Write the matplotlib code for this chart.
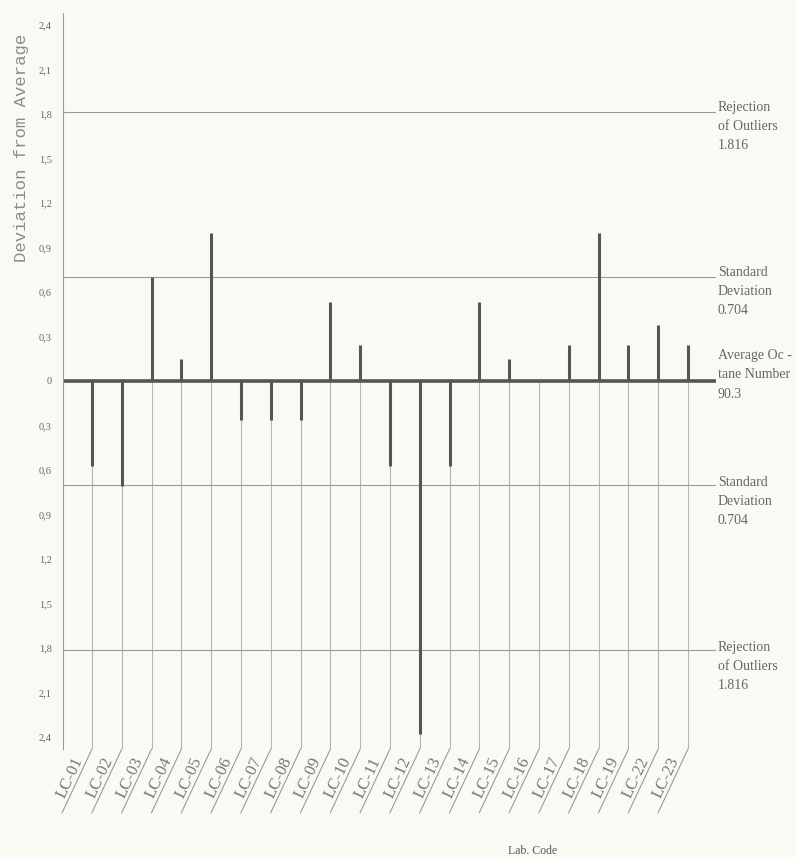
import numpy as np
import matplotlib.pyplot as plt

plt.rcParams['font.family'] = ['Liberation Serif', 'DejaVu Serif']

# ---- data ----
labs = ['LC-01', 'LC-02', 'LC-03', 'LC-04', 'LC-05', 'LC-06', 'LC-07',
        'LC-08', 'LC-09', 'LC-10', 'LC-11', 'LC-12', 'LC-13', 'LC-14',
        'LC-15', 'LC-16', 'LC-17', 'LC-18', 'LC-19', 'LC-22', 'LC-23']
deviation = [-0.57, -0.71, 0.70, 0.15, 1.00, -0.26, -0.26,
             -0.26, 0.53, 0.24, -0.57, -2.38, -0.57, 0.53,
             0.15, 0.00, 0.24, 1.00, 0.24, 0.38, 0.24]
avg_octane = 90.3
std_dev = 0.704
reject = 1.816
y_ticks = [2.4, 2.1, 1.8, 1.5, 1.2, 0.9, 0.6, 0.3, 0,
           -0.3, -0.6, -0.9, -1.2, -1.5, -1.8, -2.1, -2.4]

bg = '#fafaf5'
ybot, ytop = -2.48, 2.48

fig = plt.figure(figsize=(7.96, 8.57), dpi=100, facecolor=bg)
ax = fig.add_axes([63 / 796, 1 - 749 / 857, 653 / 796, 736 / 857])
ax.set_facecolor(bg)

x = np.arange(len(labs))
ax.set_xlim(-0.973, 20.94)
ax.set_ylim(ybot, ytop)

# thin guides from the average line down to the lab codes
ax.vlines(x, ybot, 0, color='#b4b4b4', lw=0.8)

# control limits
for v in (reject, std_dev, -std_dev, -reject):
    ax.axhline(v, color='#9a9a9a', lw=0.8)

# deviations
ax.vlines(x, 0, deviation, color='#555555', lw=2.2)
ax.axhline(0, color='#555555', lw=2.6)

# axis styling
for s in ('top', 'right', 'bottom'):
    ax.spines[s].set_visible(False)
ax.spines['left'].set_color('#9a9a9a')
ax.spines['left'].set_linewidth(0.8)
ax.set_xticks([])
ax.set_yticks(y_ticks)
ax.set_yticklabels(['0' if v == 0 else f'{abs(v):.1f}'.replace('.', ',')
                    for v in y_ticks])
ax.tick_params(axis='y', length=0, pad=8, labelsize=7.5, labelcolor='#666666')

# slanted, underlined lab codes
for i, lab in enumerate(labs):
    ax.annotate('', xy=(i, ybot), xytext=(-30, -64), textcoords='offset pixels',
                arrowprops=dict(arrowstyle='-', color='#9a9a9a', lw=0.8,
                                shrinkA=0, shrinkB=0),
                annotation_clip=False)
    ax.annotate(lab, xy=(i, ybot), xytext=(-22, -29), textcoords='offset pixels',
                rotation=65, rotation_mode='anchor', ha='center', va='center',
                fontsize=12, color='#777777', annotation_clip=False)

# notes beside the reference lines
notes = [
    (reject, f'Rejection\nof Outliers\n{reject}', -15),
    (std_dev, f'Standard\nDeviation\n{std_dev}', -15),
    (0, f'Average Oc -\ntane Number\n{avg_octane}', 6),
    (-std_dev, f'Standard\nDeviation\n{std_dev}', -16),
    (-reject, f'Rejection\nof Outliers\n{reject}', -16),
]
for v, txt, dy in notes:
    ax.annotate(txt, xy=(1, v), xycoords=('axes fraction', 'data'),
                xytext=(2, dy), textcoords='offset pixels',
                ha='left', va='center', fontsize=10, linespacing=1.6,
                color='#666666', annotation_clip=False)

fig.text(22 / 796, 1 - 148 / 857, 'Deviation from Average', rotation=90,
         family='Liberation Mono', fontsize=12.5, color='#8c8c8c',
         ha='center', va='center')
fig.text(533 / 796, 1 - 851 / 857, 'Lab. Code', fontsize=8.5,
         ha='center', va='center', color='#555555')

fig.savefig('out.png', dpi=100, facecolor=bg)
